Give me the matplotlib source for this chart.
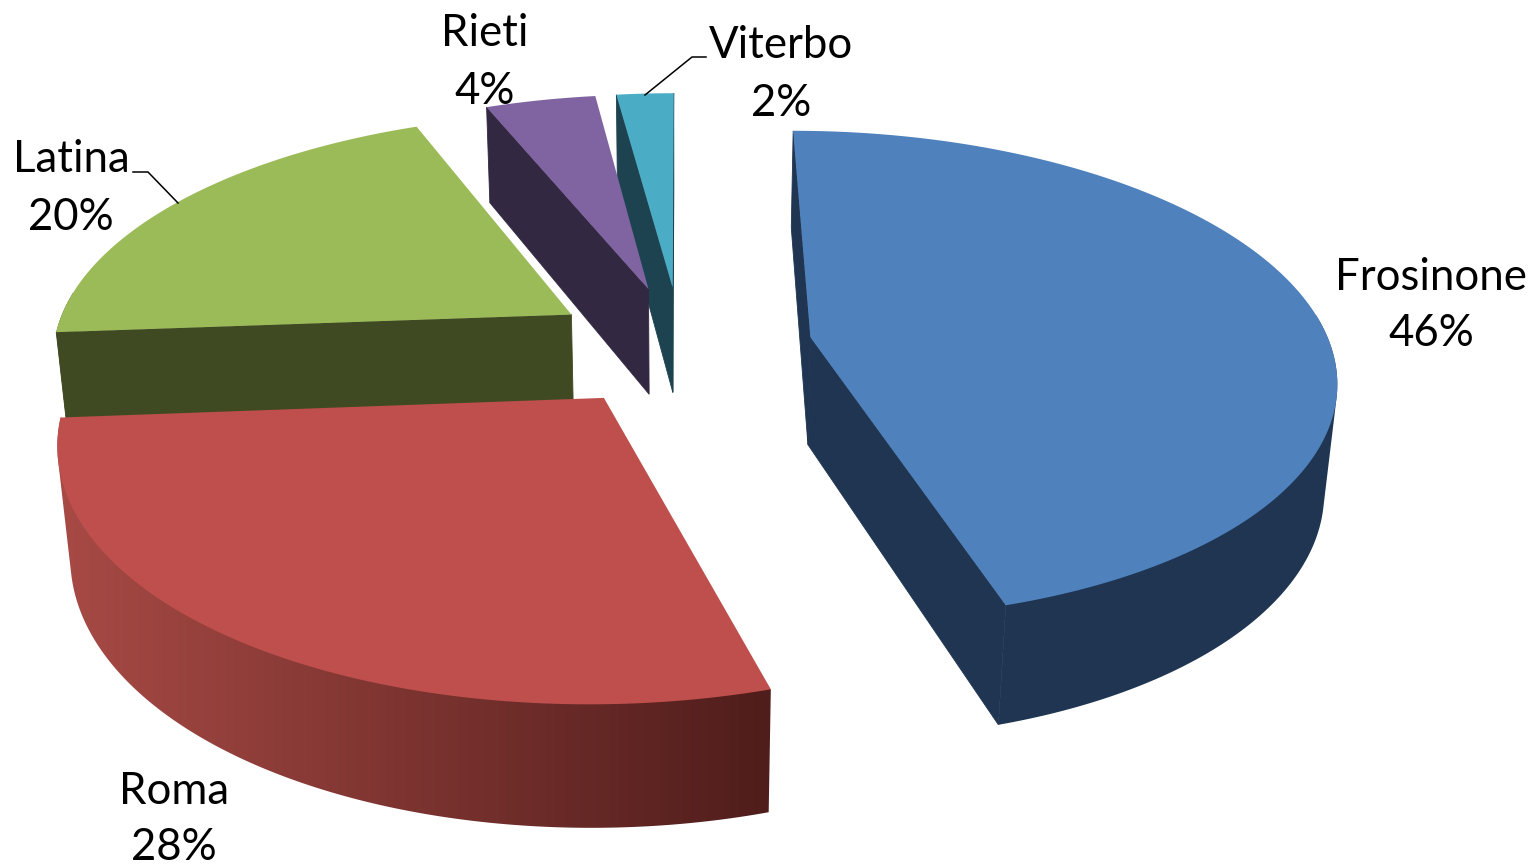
import numpy as np
import matplotlib
matplotlib.use("Agg")
import matplotlib.pyplot as plt
from matplotlib.colors import LinearSegmentedColormap
from matplotlib.patches import Polygon

names = ["Frosinone", "Roma", "Latina", "Rieti", "Viterbo"]
values = [45.4, 28.4, 20.05, 4.05, 2.1]
percent_labels = ["46%", "28%", "20%", "4%", "2%"]
top_colors = ["#4F81BD", "#BE4F4C", "#9BBB59", "#8064A2", "#4BACC6"]
wall_left = ["#1F3552", "#A84A45", "#404A22", "#322841", "#1D4350"]
wall_right = ["#1F3552", "#4F1D1B", "#404A22", "#322841", "#1D4350"]
draw_order = [4, 3, 2, 0, 1]
label_pos = [(1431, 277, 334), (174, 792, 847), (71, 160, 218), (485, 34, 92), (781, 45, 103)]

CX, CY = 681, 346
RX, RY = 520, 241
PERSP = 0.155
HEIGHT = 110
SHRINK = 0.02
EXPLODE = 0.253


def project(X, Y, Z):
    w = 1 + PERSP * Y + SHRINK * Z
    return CX + RX * X / w, CY + (-RY * Y + HEIGHT * Z) / w


def signed_area(pts):
    x, y = np.array(pts).T
    return np.sum(x * np.roll(y, -1) - np.roll(x, -1) * y)


def convex_hull(points):
    pts = sorted(map(tuple, points))

    def half(seq):
        out = []
        for p in seq:
            while len(out) > 1 and ((out[-1][0] - out[-2][0]) * (p[1] - out[-2][1])
                                    - (out[-1][1] - out[-2][1]) * (p[0] - out[-2][0])) <= 0:
                out.pop()
            out.append(p)
        return out[:-1]

    return np.array(half(pts) + half(pts[::-1]))


fig = plt.figure(figsize=(15.32, 8.66), dpi=100)
ax = fig.add_axes([0, 0, 1, 1])
ax.axis("off")

fracs = np.array(values) / sum(values)
edges = np.concatenate([[0], np.cumsum(fracs)]) * 2 * np.pi

for i in draw_order:
    a0, a1 = edges[i], edges[i + 1]
    mid = (a0 + a1) / 2
    ox, oy = EXPLODE * np.sin(mid), EXPLODE * np.cos(mid)
    th = np.linspace(a0, a1, 200)
    rx, ry = ox + np.sin(th), oy + np.cos(th)
    # outer wall: silhouette of the near part of the rim, shaded from left to right
    front = np.cos(th) <= 0.1
    if front.sum() > 1:
        top = np.column_stack(project(rx[front], ry[front], 0))
        bottom = np.column_stack(project(rx[front], ry[front], 1))
        wall = convex_hull(np.vstack([top, bottom]))
        if wall_left[i] == wall_right[i]:
            ax.fill(wall[:, 0], wall[:, 1], color=wall_left[i], lw=0, zorder=2)
        else:
            cmap = LinearSegmentedColormap.from_list("wall", [wall_left[i], wall_right[i]])
            im = ax.imshow(np.linspace(0, 1, 256)[None, :], cmap=cmap, aspect="auto", zorder=2,
                           extent=(wall[:, 0].min(), wall[:, 0].max(),
                                   wall[:, 1].max() + 4, wall[:, 1].min() - 4))
            im.set_clip_path(Polygon(wall, closed=True, transform=ax.transData))
    # radial cut faces, only where they face the viewer
    for t, sign in ((a0, -1), (a1, 1)):
        ex, ey = ox + np.sin(t), oy + np.cos(t)
        p = [project(ox, oy, 0), project(ex, ey, 0), project(ex, ey, 1), project(ox, oy, 1)]
        if signed_area(p) * sign > 0:
            ax.fill(*zip(*p), color=wall_left[i], lw=0.6, zorder=2)
    # top face
    sx, sy = project(np.r_[ox, rx], np.r_[oy, ry], 0)
    ax.fill(sx, sy, color=top_colors[i], lw=0, zorder=2)

ax.plot([133, 148, 178], [172, 172, 203], color="black", lw=1.1, zorder=3)
ax.plot([706, 692, 645], [57, 57, 95], color="black", lw=1.1, zorder=3)

for n, pct, (x, y1, y2) in zip(names, percent_labels, label_pos):
    ax.text(x, y1, n, ha="center", va="center", fontsize=31.5, family="Lato", zorder=4)
    ax.text(x, y2, pct, ha="center", va="center", fontsize=31.5, family="Lato", zorder=4)

ax.set_xlim(0, 1532)
ax.set_ylim(866, 0)
fig.savefig("out.png", dpi=100)
